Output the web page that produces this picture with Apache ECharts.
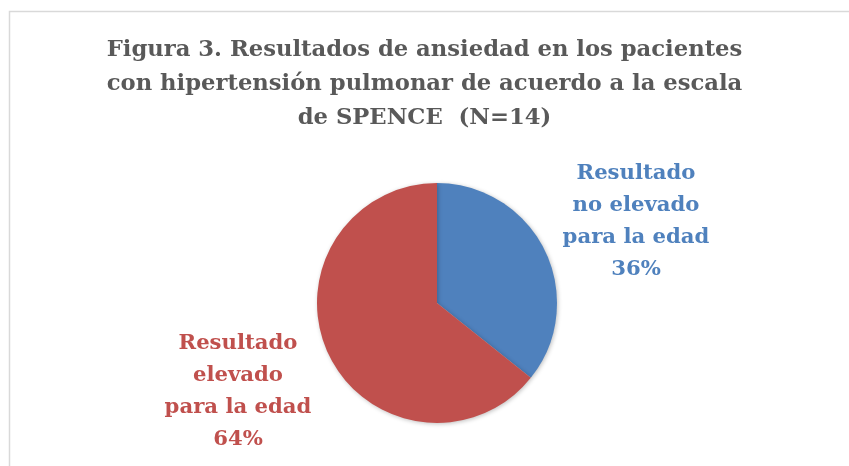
<!DOCTYPE html>
<html>
<head>
<meta charset="utf-8">
<script src="https://cdn.jsdelivr.net/npm/echarts@6/dist/echarts.min.js"></script>
<style>
  html, body { margin: 0; padding: 0; background: #fff; }
  #chart { width: 849px; height: 466px; }
</style>
</head>
<body>
<div id="chart"></div>
<script>
// data
var categories = ['Resultado\nno elevado\npara la edad', 'Resultado\nelevado\npara la edad'];
var counts = [5, 9];
var colors = ['#4F81BD', '#C0504D'];
var titleText = 'Figura 3. Resultados de ansiedad en los pacientes\ncon hipertensión pulmonar de acuerdo a la escala\nde SPENCE  (N=14)';

// label anchor points (px) for each slice
var labelPos = [[636, 221], [238, 391]];

var total = counts.reduce(function (a, b) { return a + b; }, 0);
var pieData = categories.map(function (c, i) {
	return {
		name: c,
		value: counts[i],
		itemStyle: { color: colors[i] },
		label: { color: colors[i] }
	};
});

var chart = echarts.init(document.getElementById('chart'));
chart.setOption({
	animation: false,
	graphic: [{
		type: 'rect',
		shape: { x: 9.5, y: 11.5, width: 900, height: 500 },
		style: { fill: 'none', stroke: '#d9d9d9', lineWidth: 1.5 }
	}],
	title: {
		text: titleText,
		left: 'center',
		top: 28,
		textStyle: {
			fontFamily: 'DejaVu Serif',
			fontWeight: 'bold',
			fontSize: 22.7,
			lineHeight: 34,
			color: '#595959'
		}
	},
	series: [{
		type: 'pie',
		center: [437, 303],
		radius: 120,
		startAngle: 90,
		clockwise: true,
		itemStyle: {
			shadowBlur: 4,
			shadowColor: 'rgba(0,0,0,0.25)',
			shadowOffsetX: 1,
			shadowOffsetY: 1
		},
		label: {
			show: true,
			position: 'outside',
			fontFamily: 'DejaVu Serif',
			fontWeight: 'bold',
			fontSize: 21.2,
			lineHeight: 32,
			align: 'center',
			formatter: function (p) {
				return p.name + '\n' + Math.round(p.value / total * 100) + '%';
			}
		},
		labelLine: { show: false },
		labelLayout: function (params) {
			var pos = labelPos[params.dataIndex];
			return { x: pos[0], y: pos[1], align: 'center', verticalAlign: 'middle' };
		},
		data: pieData
	}]
});
</script>
</body>
</html>
